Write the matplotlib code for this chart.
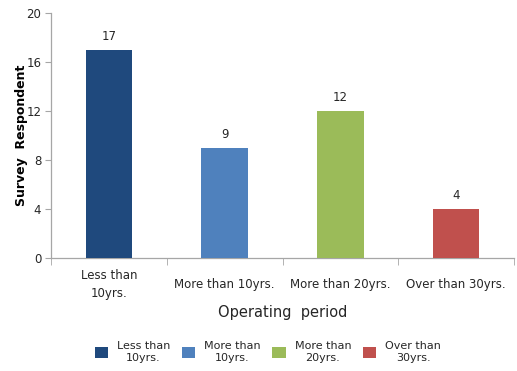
import matplotlib
matplotlib.use("Agg")
import matplotlib.pyplot as plt
import numpy as np

categories = ["Less than\n10yrs.", "More than 10yrs.", "More than 20yrs.", "Over than 30yrs."]
legend_labels = ["Less than\n10yrs.", "More than\n10yrs.", "More than\n20yrs.", "Over than\n30yrs."]
respondents = [17, 9, 12, 4]
colors = ["#1F497D", "#4F81BD", "#9BBB59", "#C0504D"]
y_ticks = [0, 4, 8, 12, 16, 20]

plt.rcParams["font.family"] = ["DejaVu Sans"]
axis_gray = "#A6A6A6"
text_col = "#262626"

fig = plt.figure(figsize=(5.17, 3.71), dpi=100)
ax = fig.add_axes([51 / 517, 113 / 371, 463 / 517, 245 / 371])

x = np.arange(len(categories))
bars = ax.bar(x, respondents, width=0.4, color=colors, zorder=3)

for xi, v in zip(x, respondents):
    ax.annotate(str(v), (xi, v), xytext=(0, 5), textcoords="offset points",
                ha="center", va="bottom", fontsize=8.5, color=text_col)

ax.set_xlim(-0.5, len(categories) - 0.5)
ax.set_ylim(0, 20)
ax.set_yticks(y_ticks)
ax.tick_params(axis="y", direction="out", length=4, color=axis_gray,
               labelsize=8.5, labelcolor=text_col, pad=3)

ax.set_xticks(x)
ax.set_xticklabels(categories, fontsize=8.5, color=text_col, va="center",
                   linespacing=1.45)
ax.tick_params(axis="x", which="major", length=0, pad=19)
ax.set_xticks(np.arange(-0.5, len(categories)), minor=True)
ax.tick_params(axis="x", which="minor", direction="out", length=5, color=axis_gray)

for side in ["top", "right"]:
    ax.spines[side].set_visible(False)
for side in ["left", "bottom"]:
    ax.spines[side].set_color(axis_gray)
    ax.spines[side].set_linewidth(0.9)

ax.set_ylabel("Survey  Respondent", fontsize=9, fontweight="bold",
              color="black", labelpad=-1)
ax.set_xlabel("Operating  period", fontsize=10.5, color=text_col, labelpad=4)

leg = fig.legend(bars, legend_labels, loc="center", ncol=4,
                 bbox_to_anchor=(0.518, 0.051), frameon=False,
                 fontsize=8, handlelength=1.2, handleheight=1.2,
                 handletextpad=0.8, columnspacing=1.05)
for t in leg.get_texts():
    t.set_multialignment("center")
    t.set_color(text_col)

fig.savefig("out.png", dpi=100)
